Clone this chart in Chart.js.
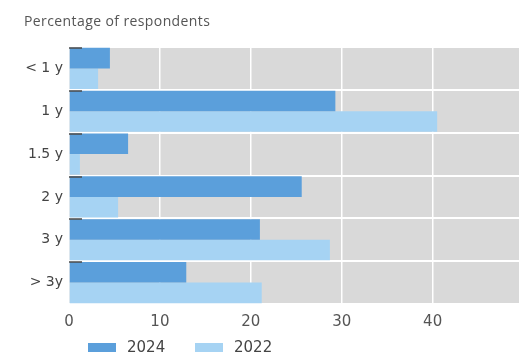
<!DOCTYPE html>
<html lang="en">
<head>
  <meta charset="UTF-8">
  <title>Percentage of respondents</title>
  <style>
    body { margin: 0; background: #fff; }
    #wrap { width: 519px; height: 354px; }
  </style>
</head>
<body>
  <div id="wrap"><canvas id="chart" width="519" height="354"></canvas></div>

  <script src="https://cdn.jsdelivr.net/npm/chart.js"></script>
  <script>
    const categories = ['< 1 y', '1 y', '1.5 y', '2 y', '3 y', '> 3y'];
    const values2024 = [4.5, 29.3, 6.5, 25.6, 21.0, 12.9];
    const values2022 = [3.2, 40.5, 1.2, 5.4, 28.7, 21.2];
    const seriesLabels = ['2024', '2022'];
    const xTicks = [0, 10, 20, 30, 40];

    const colour2024 = '#5b9fdb';
    const colour2022 = '#a6d3f3';

    // grey plot background
    const plotBg = {
      id: 'plotBg',
      beforeDraw(chart) {
        const { ctx, chartArea: a } = chart;
        ctx.save();
        ctx.fillStyle = '#d9d9d9';
        ctx.fillRect(a.left, a.top, a.right - a.left, a.bottom - a.top);
        ctx.restore();
      }
    };

    // little dark marks at the top of each category, title and legend
    const extras = {
      id: 'extras',
      afterDatasetsDraw(chart) {
        const { ctx, chartArea: a } = chart;
        const y = chart.scales.y;
        const half = (y.getPixelForValue(1) - y.getPixelForValue(0)) / 2;
        ctx.save();
        ctx.strokeStyle = '#4a4a4a';
        ctx.lineWidth = 1.5;
        categories.forEach((c, i) => {
          const py = Math.round(y.getPixelForValue(i) - half) + 1;
          ctx.beginPath();
          ctx.moveTo(a.left, py);
          ctx.lineTo(a.left + 13, py);
          ctx.stroke();
        });
        ctx.restore();
      },
      afterDraw(chart) {
        const ctx = chart.ctx;
        ctx.save();
        ctx.fillStyle = '#555';
        ctx.font = '14px "Open Sans"';
        ctx.letterSpacing = '0.4px';
        ctx.textBaseline = 'alphabetic';
        ctx.fillText('Percentage of respondents', 24, 26);
        ctx.letterSpacing = '0px';

        ctx.font = '15px "DejaVu Sans"';
        ctx.textBaseline = 'middle';
        chart.data.datasets.forEach((ds, i) => {
          const x = 88 + i * 107;
          ctx.fillStyle = ds.backgroundColor;
          ctx.fillRect(x, 343, 28, 9);
          ctx.fillStyle = '#444';
          ctx.fillText(ds.label, x + 39, 348);
        });
        ctx.restore();
      }
    };

    new Chart(document.getElementById('chart'), {
      type: 'bar',
      data: {
        labels: categories,
        datasets: [
          { label: seriesLabels[0], data: values2024, backgroundColor: colour2024 },
          { label: seriesLabels[1], data: values2022, backgroundColor: colour2022 }
        ]
      },
      options: {
        indexAxis: 'y',
        responsive: false,
        animation: false,
        layout: { padding: { top: 47, right: 0, bottom: 0, left: 0 } },
        datasets: { bar: { categoryPercentage: 0.96, barPercentage: 1.0 } },
        plugins: {
          legend: { display: false },
          tooltip: { enabled: false }
        },
        scales: {
          x: {
            min: 0,
            max: 49.5,
            afterBuildTicks: s => { s.ticks = xTicks.map(v => ({ value: v })); },
            afterFit: s => { s.height = 50; },
            border: { display: false },
            grid: { color: '#ffffff', lineWidth: 1.5, drawTicks: false },
            ticks: { color: '#555', padding: 9, font: { family: 'DejaVu Sans', size: 15 } }
          },
          y: {
            afterFit: s => { s.width = 69; },
            border: { display: false },
            grid: { color: '#ffffff', lineWidth: 2, drawTicks: false },
            ticks: { color: '#444', padding: 6, font: { family: 'DejaVu Sans', size: 14 } }
          }
        }
      },
      plugins: [plotBg, extras]
    });
  </script>
</body>
</html>
